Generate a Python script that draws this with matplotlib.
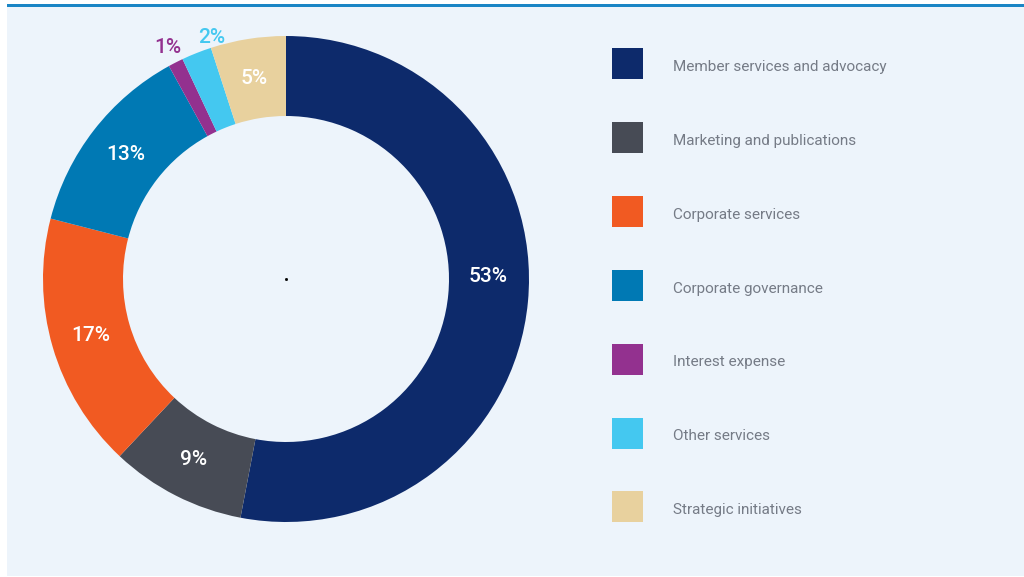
import matplotlib
matplotlib.use("Agg")
import matplotlib.pyplot as plt
from matplotlib.patches import Rectangle
import numpy as np

categories = [
    "Member services and advocacy",
    "Marketing and publications",
    "Corporate services",
    "Corporate governance",
    "Interest expense",
    "Other services",
    "Strategic initiatives",
]
shares = [53, 9, 17, 13, 1, 2, 5]
colors = ["#0D2A6B", "#474B55", "#F15A22", "#0079B4", "#93318F", "#44C8F0", "#E8D19E"]
# small slices get their label outside the ring, in the slice colour
outside = [False, False, False, False, True, True, False]

W, H = 1024, 577
fig = plt.figure(figsize=(W / 100, H / 100), dpi=100)
fig.patch.set_facecolor("white")

# panel background and top rule
fig.add_artist(Rectangle((7 / W, 1 / H), (W - 7) / W, (H - 6) / H,
                         transform=fig.transFigure, facecolor="#EDF4FB",
                         edgecolor="none", zorder=0))
fig.add_artist(Rectangle((7 / W, (H - 7) / H), (W - 7) / W, 3 / H,
                         transform=fig.transFigure, facecolor="#1A85C5",
                         edgecolor="none", zorder=1))

# donut axes: centre (286, 279) px, outer radius 243 px
cx, cy, R, half = 286, 279, 243, 270
ax = fig.add_axes([(cx - half) / W, (H - cy - half) / H, 2 * half / W, 2 * half / H])

ring = 80 / R
wedges, _ = ax.pie(shares, colors=colors, startangle=90, counterclock=False,
                   radius=1.0, wedgeprops=dict(width=ring, edgecolor="none"))
ax.set_xlim(-half / R, half / R)
ax.set_ylim(-half / R, half / R)
ax.set_aspect("equal")
ax.axis("off")

out_shift = {5: 0.09}
for i, w in enumerate(wedges):
    ang = np.deg2rad((w.theta1 + w.theta2) / 2)
    if outside[i]:
        r = 1.07
        x, y = r * np.cos(ang) + out_shift.get(i, 0), r * np.sin(ang)
        ax.text(x, y, f"{shares[i]}%", color=colors[i], fontsize=15,
                fontfamily="Roboto", fontweight="medium", ha="center", va="center")
    else:
        r = 1 - ring / 2
        x, y = r * np.cos(ang), r * np.sin(ang)
        if i == 0:
            y += 0.09
        ax.text(x, y, f"{shares[i]}%", color="white", fontsize=15,
                fontfamily="Roboto", fontweight="medium", ha="center", va="center")

ax.plot([0], [0], marker="s", ms=1, color="black")

# legend column
for i, (lab, col) in enumerate(zip(categories, colors)):
    yc = 63.5 + i * 73.9
    fig.add_artist(Rectangle((612 / W, (H - yc - 15.5) / H), 31 / W, 31 / H,
                             transform=fig.transFigure, facecolor=col,
                             edgecolor="none", zorder=2))
    fig.text(673 / W, (H - yc - 7.3) / H, lab, color="#757B86", fontsize=11,
             fontfamily="Roboto", ha="left", va="baseline")

fig.savefig("out.png", dpi=100, facecolor=fig.get_facecolor())
